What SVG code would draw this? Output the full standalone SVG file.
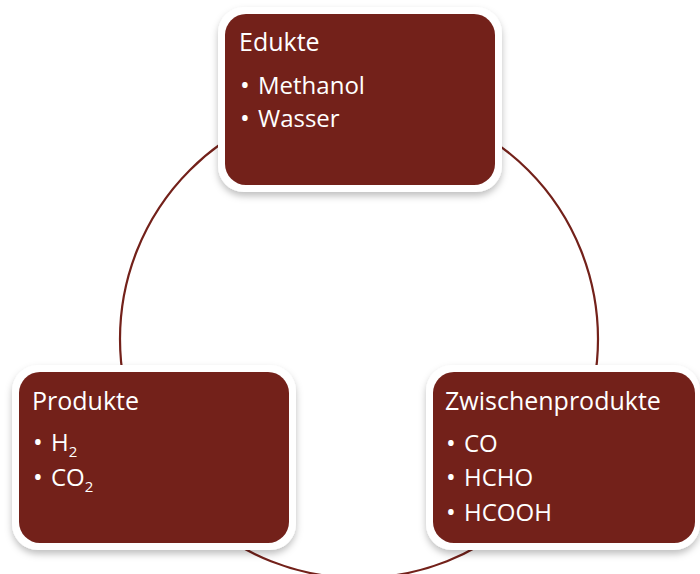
<svg xmlns="http://www.w3.org/2000/svg" width="700" height="574" viewBox="0 0 700 574">
  <defs>
    <filter id="shadow" x="-10%" y="-10%" width="120%" height="130%">
      <feDropShadow dx="0" dy="4" stdDeviation="3.5" flood-color="#000" flood-opacity="0.25"/>
    </filter>
  </defs>
  <style>
    .frame { fill: #ffffff; filter: url(#shadow); }
    .box { fill: #73211A; }
    .title, .item { font-family: "Open Sans", "Liberation Sans", sans-serif; fill: #ffffff; }
    .title { font-size: 25px; }
    .item { font-size: 24px; }
    .dot { font-size: 26px; }
    .sub { font-size: 15px; }
    .cycle { fill: none; stroke: #73211A; stroke-width: 2.2; }
  </style>

  <!-- cycle connecting the three stages -->
  <g id="connectors">
    <circle class="cycle" cx="359" cy="339" r="239"/>
  </g>

  <g id="edukte">
    <rect class="frame" x="218" y="7" width="284" height="185" rx="26"/>
    <rect class="box" x="225" y="14" width="270" height="171" rx="21"/>
    <text class="title" x="239" y="51">Edukte</text>
    <text class="item" y="94"><tspan class="dot" x="240">•</tspan><tspan x="258">Methanol</tspan></text>
    <text class="item" y="127"><tspan class="dot" x="240">•</tspan><tspan x="258">Wasser</tspan></text>
  </g>

  <g id="produkte">
    <rect class="frame" x="12" y="365" width="284" height="185" rx="26"/>
    <rect class="box" x="19" y="372" width="270" height="171" rx="21"/>
    <text class="title" x="32" y="410">Produkte</text>
    <text class="item" y="451"><tspan class="dot" x="33">•</tspan><tspan x="51">H</tspan><tspan class="sub" dy="6">2</tspan></text>
    <text class="item" y="486"><tspan class="dot" x="33">•</tspan><tspan x="51">CO</tspan><tspan class="sub" dy="6">2</tspan></text>
  </g>

  <g id="zwischenprodukte">
    <rect class="frame" x="426" y="365" width="274" height="185" rx="26"/>
    <rect class="box" x="433" y="372" width="262" height="171" rx="21"/>
    <text class="title" x="445" y="410">Zwischenprodukte</text>
    <text class="item" y="452"><tspan class="dot" x="446">•</tspan><tspan x="464">CO</tspan></text>
    <text class="item" y="486"><tspan class="dot" x="446">•</tspan><tspan x="464">HCHO</tspan></text>
    <text class="item" y="521"><tspan class="dot" x="446">•</tspan><tspan x="464">HCOOH</tspan></text>
  </g>
</svg>
